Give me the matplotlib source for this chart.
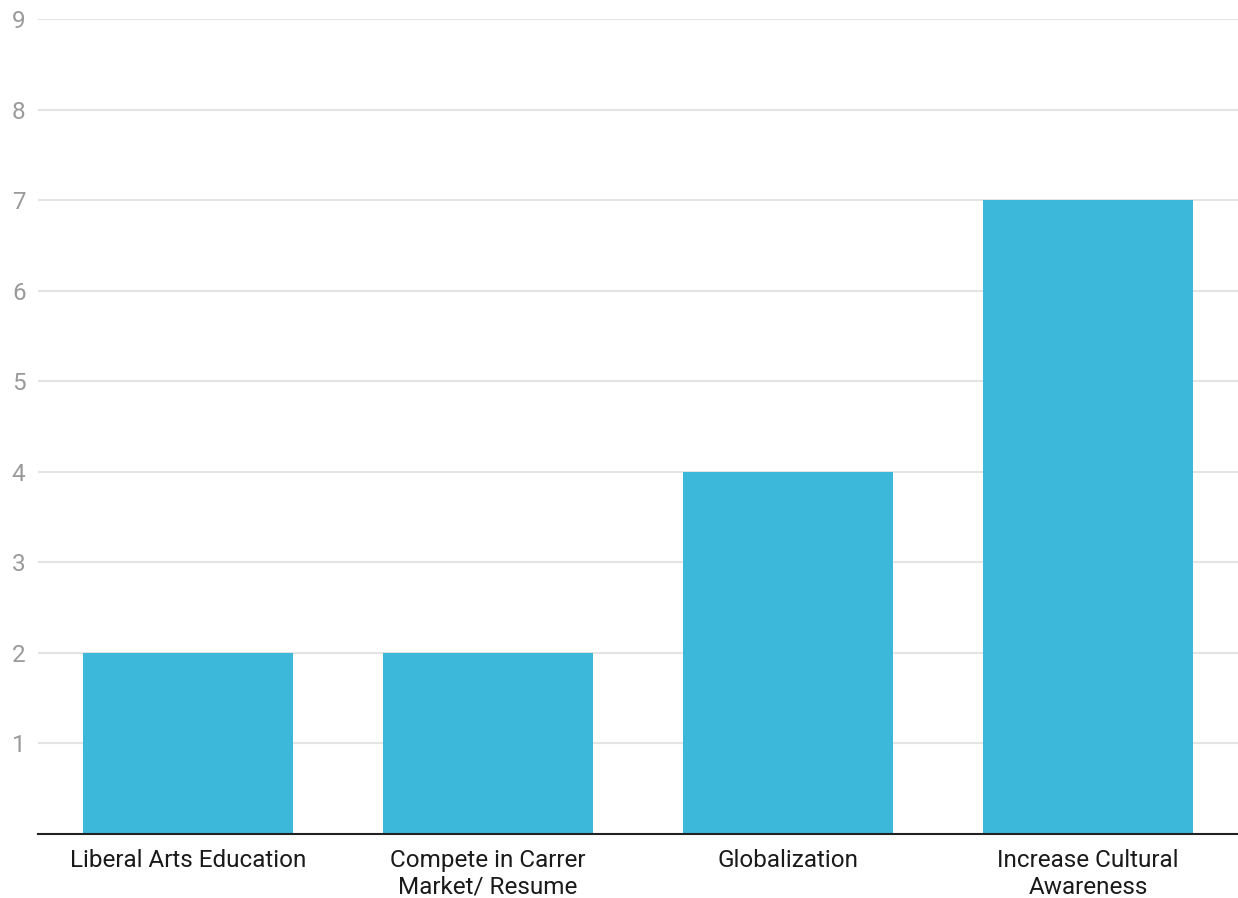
import matplotlib
matplotlib.use("Agg")
import matplotlib.pyplot as plt

categories = ["Liberal Arts Education", "Compete in Carrer\nMarket/ Resume", "Globalization", "Increase Cultural\nAwareness"]
values = [2, 2, 4, 7]
yticks = [1, 2, 3, 4, 5, 6, 7, 8, 9]

plt.rcParams['font.family'] = ['Roboto', 'DejaVu Sans']

fig = plt.figure(figsize=(12.38, 8.98), dpi=100)
ax = fig.add_axes([38/1238, 1-833.5/898, 1-38/1238, (833.5-19)/898])

x = list(range(len(categories)))
ax.bar(x, values, width=0.7, color="#3CB8DA", zorder=3)
ax.set_xlim(-0.5, len(categories)-0.5)
ax.set_ylim(0, 9)
ax.set_yticks(yticks)
ax.set_yticklabels([str(t) for t in yticks], fontsize=17.5, color="#9a9a9a")
ax.set_xticks(x)
ax.set_xticklabels(categories, fontsize=17.5, color="#1a1a1a", linespacing=1.22)
ax.tick_params(axis='y', length=0, pad=9)
ax.tick_params(axis='x', length=0, pad=11)
ax.grid(axis='y', color="#e4e4e4", linewidth=1.5, zorder=0)
for s in ["top", "right", "left"]:
    ax.spines[s].set_visible(False)
ax.spines["bottom"].set_color("#222222")
ax.spines["bottom"].set_linewidth(1.5)
ax.spines["bottom"].set_zorder(4)

fig.savefig("out.png", dpi=100)
